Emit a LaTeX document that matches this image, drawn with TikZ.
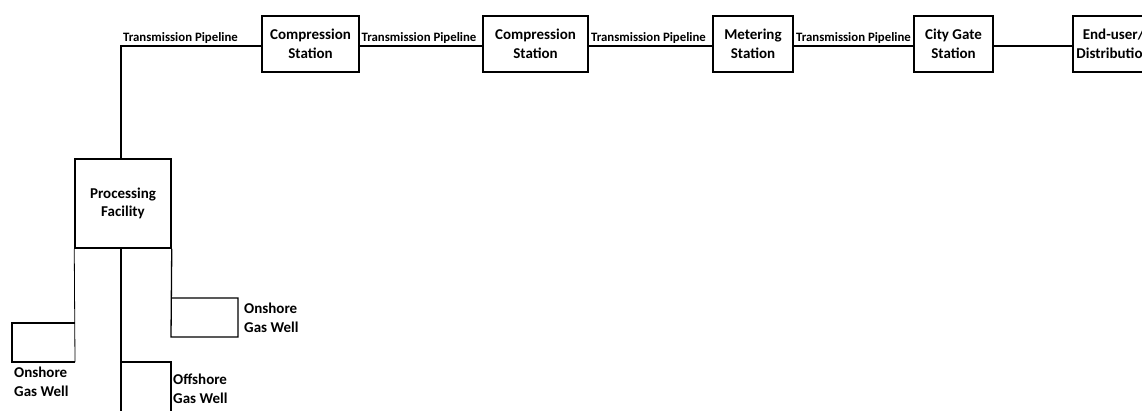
\documentclass[tikz,border=0pt]{standalone}
\usepackage{fontspec}
\setmainfont{Carlito}
\begin{document}
\begin{tikzpicture}[x=1pt,y=-1pt,
  box/.style={draw,line width=1.5pt,inner sep=0pt,align=center,font=\bfseries\fontsize{15}{18.6}\selectfont},
  lbl/.style={inner sep=0pt,anchor=base west,font=\bfseries\fontsize{12.8}{15}\selectfont},
  well/.style={inner sep=0pt,anchor=base west,align=left,font=\bfseries\fontsize{15}{19}\selectfont},
  pipe/.style={line width=1.3pt},
  thinpipe/.style={line width=0.8pt}]
\useasboundingbox (0,0) rectangle (1142,410);
\clip (0,0) rectangle (1142,410);
% boxes
\node[box,minimum width=97pt,minimum height=56pt] (c1) at (310.5,44) {Compression\\Station};
\node[box,minimum width=105pt,minimum height=56pt] (c2) at (535.5,44) {Compression\\Station};
\node[box,minimum width=80pt,minimum height=56pt] (ms) at (753,44) {Metering\\Station};
\node[box,minimum width=79pt,minimum height=56pt] (cg) at (953.5,44) {City Gate\\Station};
\node[box,minimum width=81pt,minimum height=56pt] (eu) at (1113.5,44) {End-user/\\Distribution};
\node[box,minimum width=96pt,minimum height=89pt] (pf) at (123,203.5) {Processing\\Facility};
% coordinates
\coordinate (ly) at (121,46);
\coordinate (bot) at (121,412);
% top pipelines
\draw[pipe] (pf.north -| ly) -- (ly) -- (c1.west |- ly);
\draw[pipe] (c1.east |- ly) -- (c2.west |- ly);
\draw[pipe] (c2.east |- ly) -- (ms.west |- ly);
\draw[pipe] (ms.east |- ly) -- (cg.west |- ly);
\draw[pipe] (cg.east |- ly) -- (eu.west |- ly);
% pipeline labels
\node[lbl] (t1) at (123,41.7) {Transmission Pipeline};
\node[lbl] (t2) at (361.5,41.7) {Transmission Pipeline};
\node[lbl] (t3) at (591,41.7) {Transmission Pipeline};
\node[lbl] (t4) at (796,41.7) {Transmission Pipeline};
% wells
\coordinate (wl) at (12,323);
\coordinate (wr) at (238,298);
\coordinate (wo) at (171,362);
\draw[thinpipe] (pf.south west) -- (75,362);
\draw[pipe] (75,362) -- (12,362) -- (wl) -- (75,323);
\draw[pipe] (pf.south east) -- (171,337) -- (wr |- 0,337) -- (wr) -- (171,298);
\draw[pipe] (pf.south -| ly) -- (bot);
\draw[pipe] (121,362) -- (wo) -- (171,412);
\node[well] (onl) at (14,396) {Onshore\\Gas Well};
\node[well] (onr) at (244,332.7) {Onshore\\Gas Well};
\node[well] (off) at (173,403) {Offshore\\Gas Well};
\end{tikzpicture}
\end{document}
